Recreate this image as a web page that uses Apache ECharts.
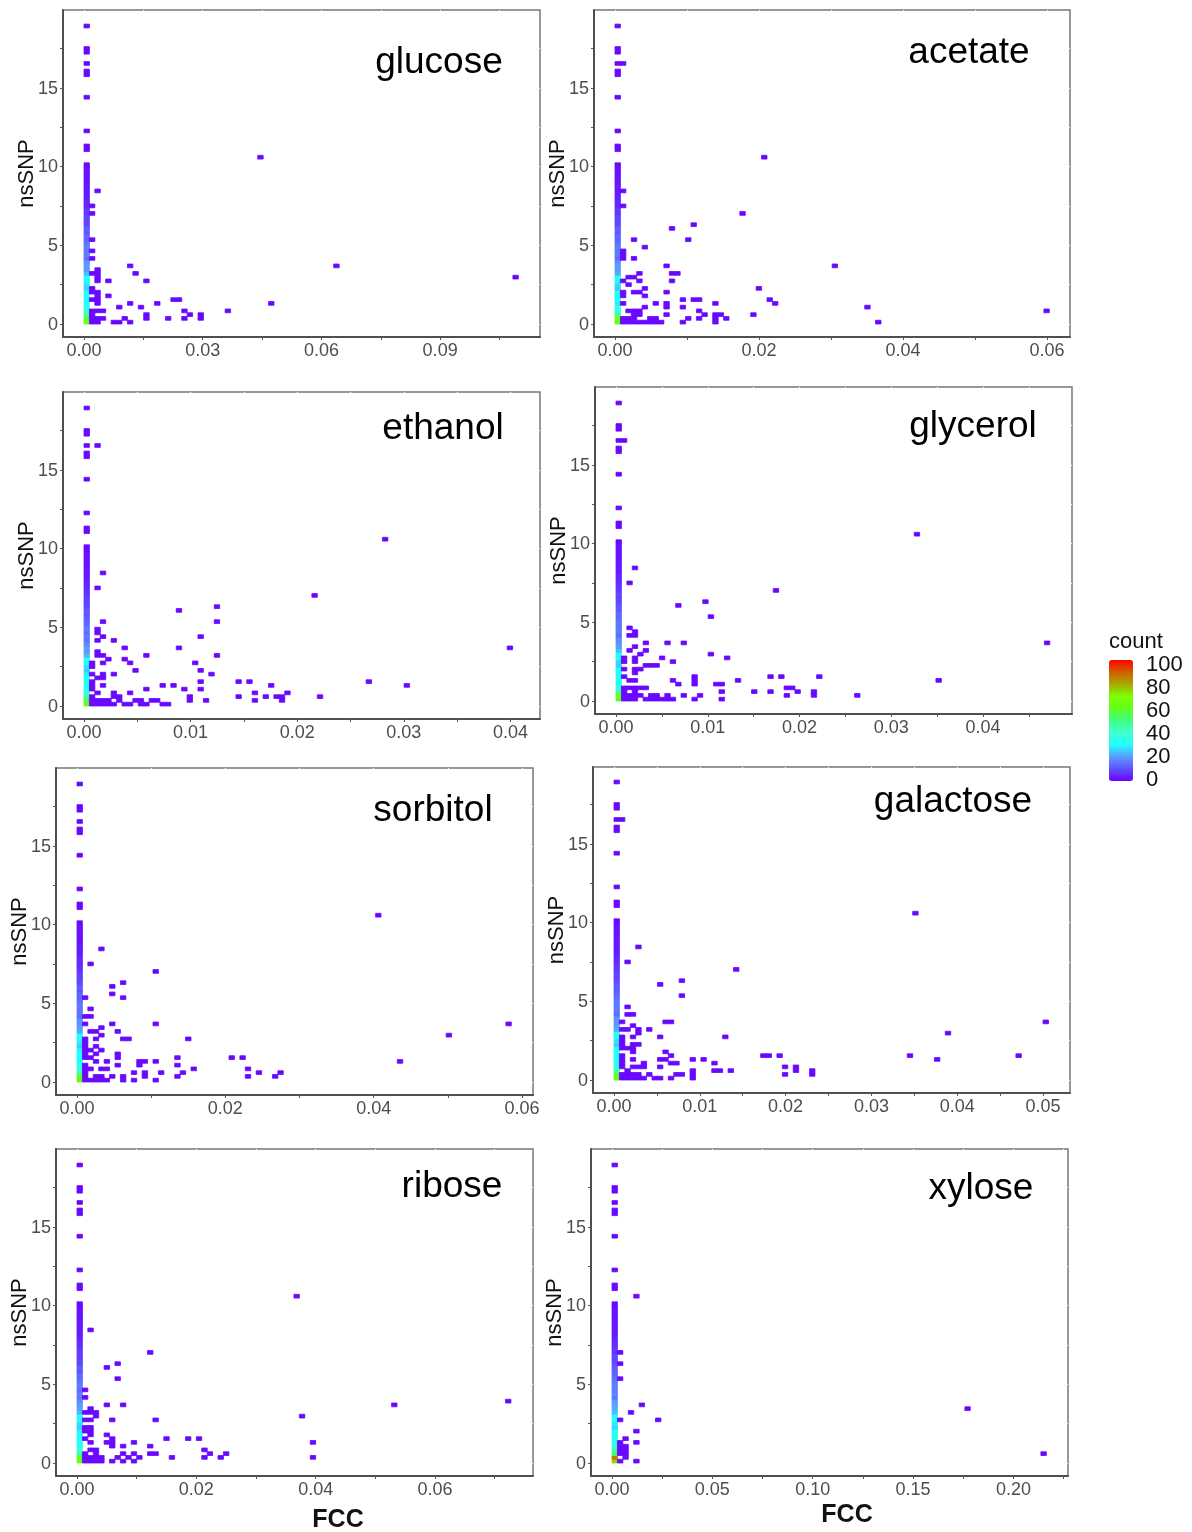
<!DOCTYPE html>
<html><head><meta charset="utf-8">
<style>html,body{margin:0;padding:0;background:#fff}#c{width:1192px;height:1532px}</style>
<script src="https://cdn.jsdelivr.net/npm/echarts@6/dist/echarts.min.js"></script>
</head><body><div id="c"></div>
<script>
// Panel names and tick labels
const panelNames = ['glucose','acetate','ethanol','glycerol','sorbitol','galactose','ribose','xylose'];
const yTickLabels = [0,5,10,15];
const glucoseXTicks = [0,0.03,0.06,0.09];
const acetateXTicks = [0,0.02,0.04,0.06];
const ethanolXTicks = [0,0.01,0.02,0.03,0.04];
const glycerolXTicks = [0,0.01,0.02,0.03,0.04];
const sorbitolXTicks = [0,0.02,0.04,0.06];
const galactoseXTicks = [0,0.01,0.02,0.03,0.04,0.05];
const riboseXTicks = [0,0.02,0.04,0.06];
const xyloseXTicks = [0,0.05,0.10,0.15,0.20];
const legendTicks = [0,20,40,60,80,100];
// Bin widths
const glucoseBin = 0.001372, acetateBin = 0.000754, ethanolBin = 0.000509, glycerolBin = 0.000591;
const sorbitolBin = 0.000732, galactoseBin = 0.000633, riboseBin = 0.000909, xyloseBin = 0.002705;
const ySNPBin = 0.238;
// Counts in the first FCC column, from nsSNP bin 0 upward
const glucoseCol0 = [68,58,46,40,35,30,32,31,30,26,27,30,30,24,20,20,19,14,16,15,16,15,13,13,11,12,9,8,9,7,7,5,5,4,3,3,3,3,2,2,2,2,1];
const acetateCol0 = [60,70,48,35,38,28,30,30,30,24,26,30,32,22,20,20,19,14,16,15,16,15,13,13,11,12,9,8,9,7,7,5,5,4,3,3,3,3,2,2,2,2,1];
const ethanolCol0 = [62,58,46,38,32,30,31,30,29,25,27,30,31,23,20,20,18,15,16,14,16,14,13,12,11,11,9,8,8,7,6,5,5,4,3,3,3,2,2,2,2,1,1];
const glycerolCol0 = [60,62,46,38,33,31,30,31,30,25,26,30,31,23,20,19,18,14,16,15,15,15,13,13,11,11,9,8,9,7,7,5,5,4,3,3,3,3,2,2,2,2,1];
const sorbitolCol0 = [60,60,46,38,33,30,31,31,30,25,27,31,31,22,20,19,19,14,15,15,16,14,13,13,11,12,9,8,8,7,6,5,5,4,3,3,3,2,2,2,2,2,1];
const galactoseCol0 = [62,58,46,36,34,30,31,30,30,25,27,31,32,22,20,19,19,14,15,15,16,15,13,12,11,12,9,8,9,7,7,5,5,4,3,3,3,3,2,2,2,2,1];
const riboseCol0 = [64,60,46,38,34,31,31,30,29,25,26,31,31,23,21,20,18,15,16,14,16,15,13,13,11,12,9,8,8,7,7,5,5,4,3,3,3,3,2,2,2,1,1];
const xyloseCol0 = [74,86,52,46,39,34,32,33,31,26,28,31,32,24,22,21,20,15,17,16,16,16,14,13,12,12,10,8,9,7,7,5,5,4,3,3,3,3,2,2,2,2,1];
// Sparse rows above the dense part of column 0, one count each
const upperRows = [46,47,51,60,66,67,69,72,73,79];
// Other occupied bins: [FCC bin, nsSNP bin]
const glucoseMarks = [[8,15],[9,13],[1,13],[2,13],[2,14],[2,12],[2,11],[4,11],[11,11],[1,9],[1,8],[2,8],[2,7],[2,6],[2,5],[1,6],[4,7],[6,4],[8,5],[10,4],[13,5],[16,6],[17,6],[34,5],[1,3],[2,3],[3,3],[1,2],[1,1],[2,1],[3,1],[1,0],[2,0],[5,0],[6,0],[7,1],[8,0],[11,2],[11,1],[15,1],[18,3],[19,2],[18,1],[21,2],[21,1],[26,3],[2,35],[1,31],[1,29],[1,22],[1,19],[1,17],[32,44],[46,15],[79,12]];
const acetateMarks = [[1,31],[23,29],[14,26],[10,25],[3,22],[13,22],[5,20],[1,19],[1,18],[1,17],[3,17],[9,15],[4,13],[10,13],[11,13],[2,12],[3,12],[1,11],[4,11],[10,11],[2,10],[5,9],[26,9],[1,8],[1,7],[3,8],[4,8],[9,8],[5,7],[12,6],[14,6],[15,6],[28,6],[1,5],[7,5],[9,5],[9,4],[12,4],[18,5],[29,5],[5,4],[2,3],[3,3],[4,3],[3,2],[4,2],[15,3],[9,2],[16,2],[18,2],[19,2],[25,2],[6,1],[7,1],[13,1],[15,1],[18,1],[20,1],[1,1],[2,1],[3,1],[1,0],[2,0],[3,0],[4,0],[5,0],[6,0],[7,0],[8,0],[12,0],[18,0],[1,35],[1,69],[27,44],[40,15],[79,3],[48,0],[46,4]];
const ethanolMarks = [[42,29],[24,26],[17,25],[3,22],[24,22],[2,20],[2,19],[3,18],[2,17],[5,17],[21,18],[7,15],[17,15],[2,14],[2,13],[3,13],[11,13],[24,13],[4,12],[7,12],[3,11],[8,11],[1,11],[1,10],[20,11],[9,9],[21,9],[1,8],[3,8],[3,7],[2,7],[5,8],[23,8],[1,6],[1,5],[1,4],[3,5],[21,6],[28,6],[30,6],[34,5],[11,4],[14,5],[16,5],[18,4],[21,4],[2,3],[5,3],[5,2],[6,2],[6,1],[8,3],[1,2],[19,2],[19,1],[22,1],[28,2],[31,3],[31,1],[33,2],[35,2],[36,2],[36,1],[37,3],[43,2],[1,1],[2,1],[3,1],[4,1],[1,0],[2,0],[3,0],[4,0],[5,0],[7,0],[8,0],[9,1],[10,1],[10,0],[11,0],[12,1],[13,1],[14,0],[15,0],[2,69],[3,35],[2,31],[55,44],[78,15],[59,5],[52,6]];
const glycerolMarks = [[29,29],[11,25],[16,26],[17,22],[2,19],[3,18],[3,17],[2,17],[5,15],[9,15],[12,15],[3,14],[2,13],[5,13],[4,12],[17,12],[20,11],[1,11],[1,10],[3,11],[3,10],[8,11],[10,10],[5,9],[6,9],[7,9],[1,8],[3,8],[3,7],[4,8],[1,6],[2,5],[3,5],[10,5],[11,4],[14,6],[14,5],[14,4],[18,4],[19,4],[22,5],[28,6],[30,6],[37,6],[1,3],[2,3],[3,3],[4,3],[5,3],[1,2],[3,2],[19,2],[25,2],[28,2],[31,3],[32,3],[33,2],[36,2],[36,1],[1,1],[2,1],[3,1],[4,1],[6,1],[7,1],[9,1],[12,1],[15,1],[31,1],[1,0],[2,0],[3,0],[5,0],[6,0],[7,0],[8,0],[9,0],[10,0],[14,0],[19,0],[1,69],[3,35],[2,31],[55,44],[79,15],[59,5],[44,1]];
const sorbitolMarks = [[14,29],[8,26],[6,25],[6,23],[8,22],[1,22],[2,19],[1,17],[2,17],[1,15],[6,15],[14,15],[4,14],[2,13],[3,13],[7,13],[4,12],[8,11],[9,11],[20,11],[3,11],[1,11],[1,10],[1,9],[1,8],[1,7],[1,6],[3,9],[2,8],[4,8],[3,7],[2,6],[7,7],[7,6],[3,5],[5,5],[11,5],[12,5],[11,4],[14,5],[18,6],[18,4],[28,6],[30,6],[7,4],[1,4],[1,3],[2,3],[4,3],[5,3],[21,3],[31,3],[1,2],[1,1],[1,0],[10,2],[12,2],[12,1],[15,2],[19,2],[33,2],[37,2],[3,1],[4,1],[6,1],[8,1],[8,0],[18,1],[31,1],[36,1],[2,0],[3,0],[4,0],[5,0],[10,0],[14,0],[2,31],[4,35],[55,44],[79,15],[68,12],[59,5]];
const galactoseMarks = [[22,29],[12,26],[8,25],[12,22],[2,19],[2,17],[3,17],[1,15],[9,15],[10,15],[3,14],[1,13],[2,13],[4,13],[4,12],[6,13],[1,11],[1,10],[1,9],[1,8],[3,11],[8,11],[20,11],[3,9],[4,9],[2,8],[3,8],[3,7],[9,7],[10,6],[1,6],[1,5],[1,4],[1,3],[3,5],[8,5],[9,5],[14,5],[16,5],[27,6],[28,6],[30,6],[10,4],[11,4],[5,4],[5,3],[18,4],[3,3],[4,3],[8,3],[31,3],[33,3],[33,2],[2,2],[14,2],[14,1],[14,0],[18,2],[19,2],[21,2],[36,2],[36,1],[1,1],[2,1],[3,1],[4,1],[6,1],[11,1],[12,1],[31,1],[1,0],[2,0],[3,0],[4,0],[5,0],[7,0],[8,0],[10,0],[1,69],[4,35],[2,31],[55,44],[79,15],[61,12],[54,6],[59,5],[74,6]];
const riboseMarks = [[13,29],[7,26],[5,25],[7,22],[1,19],[1,17],[5,15],[8,15],[2,14],[1,13],[2,13],[3,13],[3,12],[1,11],[2,11],[6,11],[14,11],[41,12],[1,9],[2,9],[1,8],[2,8],[2,7],[5,7],[1,6],[6,6],[6,5],[6,4],[5,5],[2,5],[10,5],[16,6],[20,6],[22,6],[43,5],[8,4],[13,4],[2,3],[3,3],[3,2],[1,2],[8,2],[10,2],[13,2],[14,2],[23,3],[24,2],[27,2],[1,1],[2,1],[3,1],[4,1],[7,1],[9,1],[11,1],[17,1],[23,1],[26,1],[43,1],[1,0],[2,0],[3,0],[4,0],[6,0],[8,0],[10,0],[2,35],[40,44],[58,15],[79,16]];
const xyloseMarks = [[1,22],[5,15],[3,13],[1,11],[8,11],[4,8],[2,6],[1,5],[1,4],[1,3],[1,2],[2,4],[2,3],[2,2],[2,1],[4,5],[1,0],[4,0],[1,29],[1,26],[4,44],[65,14],[79,2]];

const COL0 = [glucoseCol0,acetateCol0,ethanolCol0,glycerolCol0,sorbitolCol0,galactoseCol0,riboseCol0,xyloseCol0];
const MARKS = [glucoseMarks,acetateMarks,ethanolMarks,glycerolMarks,sorbitolMarks,galactoseMarks,riboseMarks,xyloseMarks];
const XTICKS = [glucoseXTicks,acetateXTicks,ethanolXTicks,glycerolXTicks,sorbitolXTicks,galactoseXTicks,riboseXTicks,xyloseXTicks];
const BINS = [glucoseBin,acetateBin,ethanolBin,glycerolBin,sorbitolBin,galactoseBin,riboseBin,xyloseBin];
// Layout: frame l,t,r,b; x zero px; px per x unit; y zero px; title centre
const LAYOUT = [
 {f:[63,10,540,337],x0:84,k:3957,y0:324,tc:[439,63]},
 {f:[594,10,1070,337],x0:615,k:7200,y0:324,tc:[969,53]},
 {f:[63,392,540,719],x0:84,k:10660,y0:706,tc:[443,429]},
 {f:[595,387,1072,714],x0:616,k:9175,y0:701,tc:[973,427]},
 {f:[56,768,533,1095],x0:77,k:7417,y0:1082,tc:[433,811]},
 {f:[593,767,1070,1093],x0:614,k:8580,y0:1080,tc:[953,802]},
 {f:[56,1149,533,1476],x0:77,k:5967,y0:1463,tc:[452,1187]},
 {f:[591,1149,1068,1476],x0:612,k:2007,y0:1463,tc:[981,1189]}
];
const YK = 15.75;
const TICK = '#555', LINE = '#4f4f4f', LABEL = '#4d4d4d', FONT = '"Liberation Sans", Arial, sans-serif';

function halfTicks(ticks, max){
  const step = ticks[1]-ticks[0], out = [];
  for (let i=0;i<ticks.length;i++){ out.push(ticks[i]); if (ticks[i]+step/2<max) out.push(ticks[i]+step/2); }
  return out;
}
function renderCell(params, api){
  const i = params.seriesIndex;
  const p = api.coord([api.value(0), api.value(1)]);
  const s = api.size([BINS[i], ySNPBin]);
  const c = api.visual('color');
  return {type:'rect', shape:{x:p[0], y:p[1]-s[1], width:s[0], height:s[1]},
    style:{fill:c, stroke:c, lineWidth:0.8}};
}
const grid=[],xAxis=[],yAxis=[],series=[],graphic=[];
panelNames.forEach((name,i)=>{
  const L=LAYOUT[i],[l,t,r,b]=L.f;
  grid.push({left:l,top:t,width:r-l,height:b-t,show:true,borderColor:'#777',borderWidth:1.5,outerBoundsMode:'none'});
  const xmin=-(L.x0-l)/L.k, xmax=(r-L.x0)/L.k, ymin=-(b-L.y0)/YK, ymax=(L.y0-t)/YK;
  xAxis.push({type:'value',gridIndex:i,min:xmin,max:xmax,splitLine:{show:true,lineStyle:{color:'#fff',width:1}},
    axisLine:{onZero:false,lineStyle:{color:LINE,width:2}},
    axisTick:{length:3,lineStyle:{color:TICK,width:1},customValues:halfTicks(XTICKS[i],xmax)},
    axisLabel:{customValues:XTICKS[i],formatter:v=>v.toFixed(2),color:LABEL,fontSize:18,fontFamily:FONT,margin:5,hideOverlap:false}});
  yAxis.push({type:'value',gridIndex:i,min:ymin,max:ymax,splitLine:{show:true,lineStyle:{color:'#fff',width:1}},
    name:'nsSNP',nameLocation:'middle',nameGap:25,nameMoveOverlap:false,nameTextStyle:{color:'#111',fontSize:22,fontFamily:FONT},
    axisLine:{onZero:false,lineStyle:{color:LINE,width:2}},
    axisTick:{length:3,lineStyle:{color:TICK,width:1},customValues:[0,2.5,5,7.5,10,12.5,15,17.5]},
    axisLabel:{customValues:yTickLabels,formatter:v=>String(v),color:LABEL,fontSize:18,fontFamily:FONT,margin:5,verticalAlign:'top',lineHeight:2,hideOverlap:false}});
  const data=[];
  COL0[i].forEach((c,row)=>data.push([0,row*ySNPBin,c]));
  upperRows.forEach(row=>data.push([0,row*ySNPBin,1]));
  MARKS[i].forEach(m=>data.push([m[0]*BINS[i],m[1]*ySNPBin,1]));
  series.push({type:'custom',name:name,xAxisIndex:i,yAxisIndex:i,coordinateSystem:'cartesian2d',
    renderItem:renderCell,encode:{x:0,y:1},data:data,silent:true,animation:false});
  graphic.push({type:'text',z:100,x:L.tc[0],y:L.tc[1],style:{text:name,font:'37px '+FONT,fill:'#000',textAlign:'center',textVerticalAlign:'middle'}});
});
graphic.push({type:'text',z:100,x:338,y:1520,style:{text:'FCC',font:'bold 25px '+FONT,fill:'#111',textAlign:'center',textVerticalAlign:'middle'}});
graphic.push({type:'text',z:100,x:847,y:1515,style:{text:'FCC',font:'bold 25px '+FONT,fill:'#111',textAlign:'center',textVerticalAlign:'middle'}});
graphic.push({type:'text',z:100,x:1109,y:642,style:{text:'count',font:'22px '+FONT,fill:'#111',textAlign:'left',textVerticalAlign:'middle'}});

// Colour bar: its labels and ticks come from an axis of its own
grid.push({left:1109,top:660,width:24,height:121,show:false,outerBoundsMode:'none'});
xAxis.push({type:'value',gridIndex:8,show:false,min:0,max:1});
yAxis.push({type:'value',gridIndex:8,min:-2.6,max:102.9,position:'right',z:10,
  splitLine:{show:false},axisLine:{show:false},
  axisTick:{show:true,inside:true,length:5,lineStyle:{color:'#fff',width:1},customValues:legendTicks},
  axisLabel:{customValues:legendTicks,color:'#111',fontSize:22,fontFamily:FONT,margin:13,align:'left',verticalAlign:'top',lineHeight:4,hideOverlap:false}});

const option={
  animation:false,backgroundColor:'#fff',
  grid,xAxis,yAxis,series,graphic,
  visualMap:{type:'continuous',min:0,max:100,dimension:2,seriesIndex:[0,1,2,3,4,5,6,7],
    left:1109,top:660,padding:0,itemWidth:24,itemHeight:121,calculable:false,realtime:false,hoverLink:false,
    text:null,
    inRange:{color:['#6A00FF','#5F50FF','#5C9CFF','#20FFFF','#40FFD0','#40FF80','#60FF20','#80FF00','#A8A800','#D06000','#FF0000']}}
};
const chart=echarts.init(document.getElementById('c'),null,{renderer:'canvas'});
chart.setOption(option);
</script></body></html>
